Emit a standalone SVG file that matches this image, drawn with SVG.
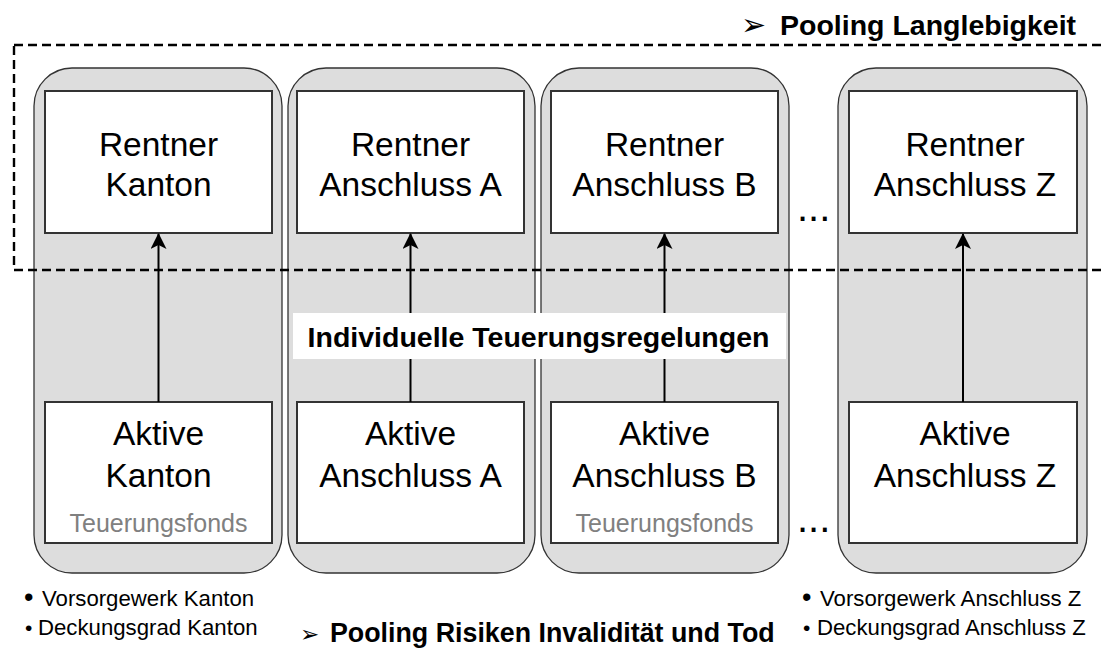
<svg xmlns="http://www.w3.org/2000/svg" width="1104" height="648" viewBox="0 0 1104 648">
  <defs>
    <marker id="ah" markerWidth="16" markerHeight="16" refX="15" refY="8" orient="auto" markerUnits="userSpaceOnUse" viewBox="0 0 16 16">
      <path d="M16,8 L0,0 L4,8 L0,16 Z" fill="#000"/>
    </marker>
  </defs>
  <style>
    text { font-family: "Liberation Sans", Arial, sans-serif; fill: #000; }
    .cont { fill: #dddddd; stroke: #333; stroke-width: 1.3; }
    .box { fill: #fff; stroke: #333; stroke-width: 2; }
    .lbl { font-size: 33.5px; text-anchor: middle; }
    .fonds { font-size: 25px; text-anchor: middle; fill: #808080; }
    .bul { font-size: 22.2px; }
    .title { font-size: 28.5px; font-weight: bold; }
    .title2 { font-size: 26.8px; font-weight: bold; }
    .sym { font-family: "DejaVu Sans", sans-serif; }
    .dots { font-size: 40px; }
    .conn { stroke: #000; stroke-width: 2; fill: none; }
    .dash { fill: none; stroke: #000; stroke-width: 2.4; stroke-dasharray: 9 5; }
  </style>

  <!-- containers -->
  <g id="col-kanton">
    <rect class="cont" x="34" y="68" width="248" height="505" rx="38" ry="38"/>
    <g id="rentner-kanton">
      <rect class="box" x="45" y="91" width="227" height="142"/>
      <text class="lbl" x="158.5" y="156">Rentner</text>
      <text class="lbl" x="158.5" y="196">Kanton</text>
    </g>
    <g id="aktive-kanton">
      <rect class="box" x="45" y="402" width="227" height="141"/>
      <text class="lbl" x="158.5" y="445">Aktive</text>
      <text class="lbl" x="158.5" y="487">Kanton</text>
      <text class="fonds" x="158.5" y="532">Teuerungsfonds</text>
    </g>
  </g>

  <g id="col-a">
    <rect class="cont" x="288" y="68" width="247" height="505" rx="38" ry="38"/>
    <g id="rentner-a">
      <rect class="box" x="297" y="91" width="227" height="142"/>
      <text class="lbl" x="410.5" y="156">Rentner</text>
      <text class="lbl" x="410.5" y="196">Anschluss A</text>
    </g>
    <g id="aktive-a">
      <rect class="box" x="297" y="402" width="227" height="141"/>
      <text class="lbl" x="410.5" y="445">Aktive</text>
      <text class="lbl" x="410.5" y="487">Anschluss A</text>
    </g>
  </g>

  <g id="col-b">
    <rect class="cont" x="541" y="68" width="248" height="505" rx="38" ry="38"/>
    <g id="rentner-b">
      <rect class="box" x="551" y="91" width="227" height="142"/>
      <text class="lbl" x="664.5" y="156">Rentner</text>
      <text class="lbl" x="664.5" y="196">Anschluss B</text>
    </g>
    <g id="aktive-b">
      <rect class="box" x="551" y="402" width="227" height="141"/>
      <text class="lbl" x="664.5" y="445">Aktive</text>
      <text class="lbl" x="664.5" y="487">Anschluss B</text>
      <text class="fonds" x="664.5" y="532">Teuerungsfonds</text>
    </g>
  </g>

  <g id="col-z">
    <rect class="cont" x="838" y="68" width="249" height="505" rx="38" ry="38"/>
    <g id="rentner-z">
      <rect class="box" x="849" y="91" width="228" height="142"/>
      <text class="lbl" x="965" y="156">Rentner</text>
      <text class="lbl" x="965" y="196">Anschluss Z</text>
    </g>
    <g id="aktive-z">
      <rect class="box" x="849" y="402" width="228" height="141"/>
      <text class="lbl" x="965" y="445">Aktive</text>
      <text class="lbl" x="965" y="487">Anschluss Z</text>
    </g>
  </g>

  <!-- connectors -->
  <g id="connectors">
    <line class="conn" x1="158.5" y1="402" x2="158.5" y2="234" marker-end="url(#ah)"/>
    <line class="conn" x1="410.5" y1="402" x2="410.5" y2="234" marker-end="url(#ah)"/>
    <line class="conn" x1="664.5" y1="402" x2="664.5" y2="234" marker-end="url(#ah)"/>
    <line class="conn" x1="963" y1="402" x2="963" y2="234" marker-end="url(#ah)"/>
  </g>

  <!-- pooling longevity dashed frame -->
  <g id="pooling-langlebigkeit">
    <rect class="dash" x="14" y="45" width="1110" height="225"/>
    <text class="sym" x="741" y="35" font-size="30">➢</text>
    <text class="title" x="780" y="35">Pooling Langlebigkeit</text>
  </g>

  <!-- central label -->
  <g id="label-teuerung">
    <rect x="293" y="313" width="493" height="46" fill="#fff"/>
    <text class="title" x="538.5" y="347" text-anchor="middle">Individuelle Teuerungsregelungen</text>
  </g>

  <!-- ellipses -->
  <g id="ellipsis">
    <text class="dots" x="797" y="221">...</text>
    <text class="dots" x="797" y="532">...</text>
  </g>

  <!-- bullets -->
  <g id="notes-kanton">
    <text class="bul" y="606"><tspan x="24" style="font-size:27px">•</tspan><tspan x="42">Vorsorgewerk Kanton</tspan></text>
    <text class="bul" y="635"><tspan x="25" style="font-size:21px">•</tspan><tspan x="38">Deckungsgrad Kanton</tspan></text>
  </g>
  <g id="notes-z">
    <text class="bul" y="606"><tspan x="802" style="font-size:27px">•</tspan><tspan x="820">Vorsorgewerk Anschluss Z</tspan></text>
    <text class="bul" y="635"><tspan x="803" style="font-size:21px">•</tspan><tspan x="817">Deckungsgrad Anschluss Z</tspan></text>
  </g>

  <g id="pooling-risiken">
    <text class="sym" x="300" y="642" font-size="23">➢</text>
    <text class="title2" x="330" y="642">Pooling Risiken Invalidität und Tod</text>
  </g>
</svg>
